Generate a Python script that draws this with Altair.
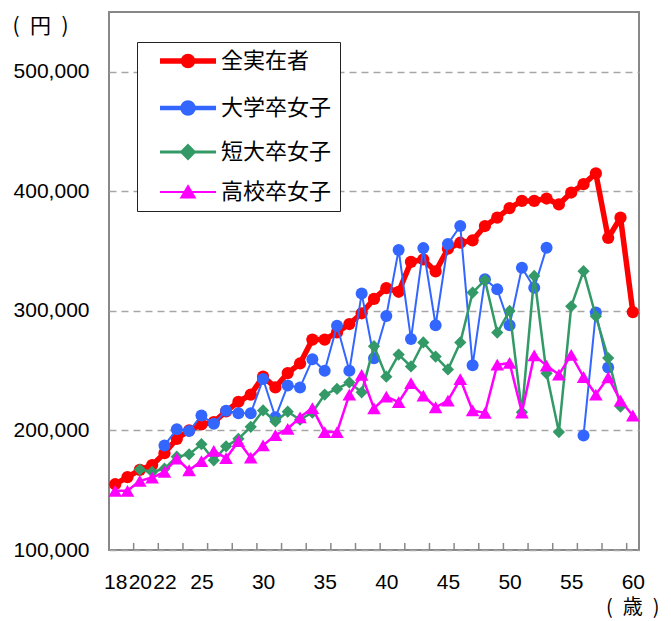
import altair as alt
import pandas as pd

ages = list(range(18, 61))

all_workers = [155000, 161000, 167000, 171000, 181000, 193000, 200000, 205000, 207000, 216000,
               224000, 230000, 245000, 236000, 248000, 256000, 276000, 276000, 282000, 289000,
               298000, 310000, 319000, 316000, 341000, 343000, 333000, 352000, 357000, 359000,
               371000, 378000, 386000, 392000, 392000, 394000, 389000, 399000, 406000, 415000,
               361000, 378000, 299000]
univ_women = [None, None, None, None, 187500, 201000, 199500, 212500, 205500, 216500,
              214400, 214400, 243000, 211000, 237500, 236000, 259500, 250000, 287500, 250000,
              314500, 260300, 295800, 351000, 276400, 352500, 288000, 356000, 371000, 254500,
              326400, 318000, 288000, 336100, 319400, 352800, None, None, 195800, 298600,
              252700, None, None]
junior_women = [None, None, 167300, 165300, 168000, 178000, 180000, 188500, 175000, 186700,
                193000, 203000, 216700, 207500, 215700, 209000, 215000, 230000, 234700, 240200,
                231900, 270500, 245000, 263500, 253500, 273600, 261800, 251000, 273600, 315300,
                325800, 281900, 300000, 215300, 329200, 247800, 198600, 303800, 333200, 295500,
                260500, 220000, None]
high_women = [149500, 149500, 157800, 160600, 165300, 176400, 166700, 174400, 183000, 176800,
              191000, 177200, 187500, 196000, 201400, 211000, 218700, 198600, 198600, 229900,
              246500, 218500, 228200, 223600, 239600, 229200, 219400, 225000, 243000, 216700,
              214700, 255000, 256500, 215000, 262800, 254200, 246700, 263200, 244700, 230000,
              244400, 225000, 212500]

series_names = ["全実在者", "大学卒女子", "短大卒女子", "高校卒女子"]
series_values = [all_workers, univ_women, junior_women, high_women]
colors = ["#FF0000", "#3366FF", "#339966", "#FF00FF"]
shapes = ["circle", "circle", "diamond", "triangle-up"]
line_widths = [5.5, 2, 2.5, 2.5]
point_sizes = [150, 144, 150, 185]

x_label_values = [18, 20, 22, 25, 30, 35, 40, 45, 50, 55, 60]
# category boundaries (tick marks every two ages)
x_tick_values = [19.5, 21.5, 23.5, 25.5, 27.5, 29.5, 31.5, 33.5, 35.5, 37.5, 39.5,
                 41.5, 43.5, 45.5, 47.5, 49.5, 51.5, 53.5, 55.5, 57.5, 59.5]
y_tick_values = [100000, 200000, 300000, 400000, 500000]
y_min, y_max = 100000, 550000
tick_len = 5900  # inward tick length, in yen units (~7px)

# legend symbols: line + marker (custom symbol paths, unit = 6px)
legend_paths = [
    "M-4.67,0L4.67,0M0.75,0A0.75,0.75,0,1,1,-0.75,0A0.75,0.75,0,1,1,0.75,0Z",
    "M-4.67,0L4.67,0M0.93,0A0.93,0.93,0,1,1,-0.93,0A0.93,0.93,0,1,1,0.93,0Z",
    "M-4.67,0L4.67,0M0,-1.03L1.03,0L0,1.03L-1.03,0Z",
    "M-4.67,0L4.67,0M0,-0.98L1.12,0.93L-1.12,0.93Z",
]
legend_stroke_widths = [5.5, 2, 2, 2]

rows = []
for name, vals in zip(series_names, series_values):
    seg = 0
    prev = False
    for a, v in zip(ages, vals):
        if v is None:
            prev = False
            continue
        if not prev:
            seg += 1
        rows.append({"series": name, "age": a, "wage": v, "seg": seg})
        prev = True
df = pd.DataFrame(rows)

x_scale = alt.Scale(domain=[17.5, 60.5], nice=False, zero=False)
y_scale = alt.Scale(domain=[y_min, y_max], nice=False, zero=False)

y_axis = alt.Axis(
    values=y_tick_values, format=",d", grid=True, gridColor="#a6a6a6", gridDash=[7, 5],
    gridWidth=1.5, domain=False, ticks=False, tickSize=0, labelPadding=20,
    labelFontSize=21, labelFont="Liberation Sans", labelColor="black",
    title="(\u2002円\u2002)", titleAngle=0, titleX=-97, titleY=14, titleAlign="left",
    titleBaseline="middle", titleFontSize=21, titleFontWeight="normal",
    titleFont="Noto Sans CJK JP", titleColor="black",
)
x_axis = alt.Axis(
    values=x_label_values, orient="bottom", grid=False, domain=False, ticks=False,
    tickSize=0, labelPadding=21, labelFontSize=21, labelFont="Liberation Sans",
    labelColor="black", labelOverlap=False, labelFlush=False,
    title="(\u2002歳\u2002)", titleX=550, titleY=57, titleAlign="right", titleBaseline="middle",
    titleFontSize=20, titleFontWeight="normal", titleFont="Noto Sans CJK JP",
    titleColor="black",
)

layers = []

# inward tick marks at category boundaries along the bottom edge
tick_df = pd.DataFrame({"age": x_tick_values})
layers.append(
    alt.Chart(tick_df).mark_rule(color="#888888", strokeWidth=1.5).encode(
        x=alt.X("age:Q", scale=x_scale, axis=x_axis),
        y=alt.YDatum(y_min, scale=y_scale, axis=y_axis),
        y2=alt.Y2Datum(y_min + tick_len),
    )
)

for i, name in enumerate(series_names):
    base = alt.Chart(df).transform_filter(alt.datum.series == name)
    line = base.mark_line(color=colors[i], strokeWidth=line_widths[i],
                          strokeJoin="round", strokeCap="round").encode(
        x=alt.X("age:Q", scale=x_scale, axis=x_axis),
        y=alt.Y("wage:Q", scale=y_scale, axis=y_axis),
        detail="seg:N",
    )
    pts = base.mark_point(shape=shapes[i], filled=True, size=point_sizes[i],
                          color=colors[i], opacity=1).encode(
        x=alt.X("age:Q", scale=x_scale, axis=x_axis),
        y=alt.Y("wage:Q", scale=y_scale, axis=y_axis),
    )
    layers += [line, pts]

legend_def = alt.Legend(
    orient="none", legendX=28, legendY=30, title=None, direction="vertical",
    symbolSize=144, labelFontSize=22, labelFont="Noto Sans CJK JP", labelColor="black",
    padding=8, rowPadding=16, labelOffset=22, symbolOffset=32,
    strokeColor="#222222", fillColor="white", symbolOpacity=1,
)

legend_layer = alt.Chart(pd.DataFrame({"series": series_names})).transform_filter(
    "false"
).mark_point(filled=True, opacity=1).encode(
    fill=alt.Fill("series:N", scale=alt.Scale(domain=series_names, range=colors), legend=legend_def),
    stroke=alt.Stroke("series:N", scale=alt.Scale(domain=series_names, range=colors), legend=legend_def),
    shape=alt.Shape("series:N", scale=alt.Scale(domain=series_names, range=legend_paths), legend=legend_def),
    strokeWidth=alt.StrokeWidth("series:N", scale=alt.Scale(domain=series_names, range=legend_stroke_widths), legend=legend_def),
)

chart = alt.layer(*layers, legend_layer).properties(
    width=530, height=538,
    padding={"left": 4, "top": 4, "right": 4, "bottom": 6},
).configure(background="white").configure_view(stroke="#888888", strokeWidth=2)

chart.save("out.html", embed_options={"renderer": "svg", "actions": False})
